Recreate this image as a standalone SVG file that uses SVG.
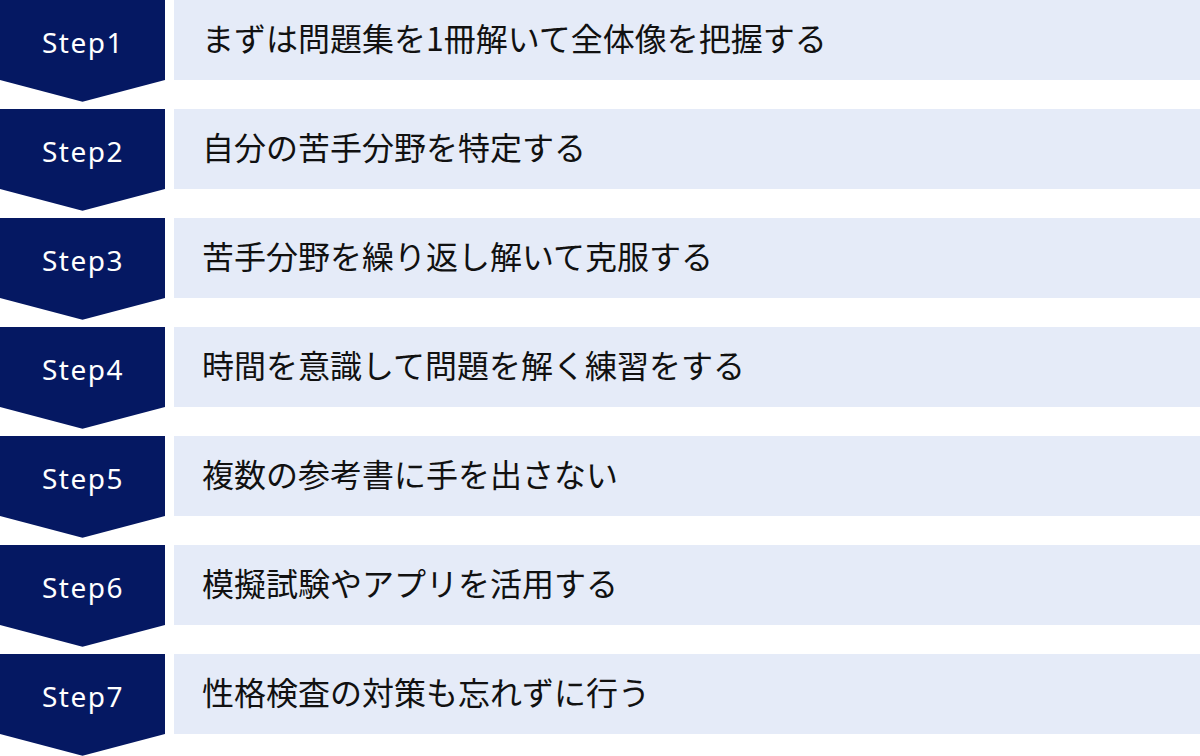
<svg xmlns="http://www.w3.org/2000/svg" width="1200" height="756" viewBox="0 0 1200 756">
<defs>
<style>
.bg{fill:#ffffff}
.arrow{fill:#051862}
.box{fill:#e5ebf8}
.lbl{font-family:"Noto Sans","Noto Sans CJK JP",sans-serif;font-size:28px;font-weight:400;letter-spacing:1.5px;fill:#ffffff;text-anchor:middle}
.txt{font-family:"Noto Sans CJK JP","Noto Sans CJK SC",sans-serif;font-size:32px;fill:#111111}
</style>
<path id="chev" d="M0 0H165V80L82.5 101.7L0 80Z"/>
</defs>
<rect class="bg" x="0" y="0" width="1200" height="756"/>
<g id="step1" transform="translate(0,0)">
<use href="#chev" class="arrow"/>
<rect class="box" x="174" y="0" width="1026" height="80"/>
<text class="lbl" x="83" y="52.5">Step1</text>
<text class="txt" x="202" y="51">まずは問題集を1冊解いて全体像を把握する</text>
</g>
<g id="step2" transform="translate(0,109)">
<use href="#chev" class="arrow"/>
<rect class="box" x="174" y="0" width="1026" height="80"/>
<text class="lbl" x="83" y="52.5">Step2</text>
<text class="txt" x="202" y="51">自分の苦手分野を特定する</text>
</g>
<g id="step3" transform="translate(0,218)">
<use href="#chev" class="arrow"/>
<rect class="box" x="174" y="0" width="1026" height="80"/>
<text class="lbl" x="83" y="52.5">Step3</text>
<text class="txt" x="202" y="51">苦手分野を繰り返し解いて克服する</text>
</g>
<g id="step4" transform="translate(0,327)">
<use href="#chev" class="arrow"/>
<rect class="box" x="174" y="0" width="1026" height="80"/>
<text class="lbl" x="83" y="52.5">Step4</text>
<text class="txt" x="202" y="51">時間を意識して問題を解く練習をする</text>
</g>
<g id="step5" transform="translate(0,436)">
<use href="#chev" class="arrow"/>
<rect class="box" x="174" y="0" width="1026" height="80"/>
<text class="lbl" x="83" y="52.5">Step5</text>
<text class="txt" x="202" y="51">複数の参考書に手を出さない</text>
</g>
<g id="step6" transform="translate(0,545)">
<use href="#chev" class="arrow"/>
<rect class="box" x="174" y="0" width="1026" height="80"/>
<text class="lbl" x="83" y="52.5">Step6</text>
<text class="txt" x="202" y="51">模擬試験やアプリを活用する</text>
</g>
<g id="step7" transform="translate(0,654)">
<use href="#chev" class="arrow"/>
<rect class="box" x="174" y="0" width="1026" height="80"/>
<text class="lbl" x="83" y="52.5">Step7</text>
<text class="txt" x="202" y="51">性格検査の対策も忘れずに行う</text>
</g>
<g id="connectors"></g>
</svg>
